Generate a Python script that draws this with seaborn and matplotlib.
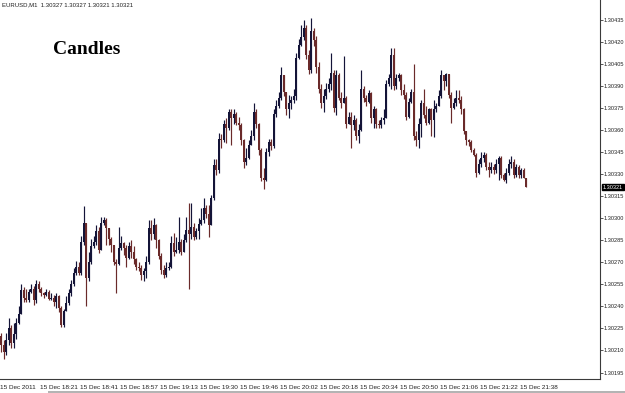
import numpy as np
import pandas as pd
import matplotlib
matplotlib.use("Agg")
import matplotlib.pyplot as plt
import matplotlib.transforms as mtransforms
from matplotlib.patches import Rectangle
import seaborn as sns

# ---------------- data (EURUSD, M1) ----------------
header = "EURUSD,M1  1.30327 1.30327 1.30321 1.30321"
chart_label = "Candles"
first_open = 1.30220

close = [
    1.30214, 1.30209, 1.30217, 1.30225, 1.30215, 1.30221, 1.30229, 1.30235, 1.30251, 1.30246,
    1.30244, 1.30250, 1.30252, 1.30244, 1.30255, 1.30252, 1.30249, 1.30248, 1.30250, 1.30245,
    1.30246, 1.30243, 1.30247, 1.30239, 1.30227, 1.30237, 1.30242, 1.30249, 1.30255, 1.30263,
    1.30267, 1.30263, 1.30284, 1.30297, 1.30259, 1.30270, 1.30281, 1.30284, 1.30291, 1.30278,
    1.30297, 1.30299, 1.30293, 1.30286, 1.30282, 1.30270, 1.30269, 1.30280, 1.30283, 1.30280,
    1.30273, 1.30281, 1.30277, 1.30272, 1.30267, 1.30266, 1.30261, 1.30264, 1.30270, 1.30293,
    1.30289, 1.30295, 1.30285, 1.30274, 1.30265, 1.30261, 1.30266, 1.30267, 1.30283, 1.30277,
    1.30278, 1.30284, 1.30277, 1.30285, 1.30292, 1.30289, 1.30294, 1.30287, 1.30291, 1.30296,
    1.30299, 1.30307, 1.30303, 1.30295, 1.30314, 1.30336, 1.30333, 1.30354, 1.30353, 1.30364,
    1.30361, 1.30372, 1.30368, 1.30371, 1.30365, 1.30363, 1.30353, 1.30338, 1.30341, 1.30350,
    1.30356, 1.30372, 1.30364, 1.30346, 1.30327, 1.30326, 1.30345, 1.30352, 1.30349, 1.30371,
    1.30376, 1.30382, 1.30397, 1.30386, 1.30374, 1.30378, 1.30380, 1.30383, 1.30409, 1.30418,
    1.30423, 1.30429, 1.30411, 1.30401, 1.30427, 1.30421, 1.30403, 1.30388, 1.30378, 1.30383,
    1.30388, 1.30391, 1.30399, 1.30375, 1.30397, 1.30382, 1.30378, 1.30382, 1.30364, 1.30369,
    1.30363, 1.30367, 1.30356, 1.30360, 1.30388, 1.30382, 1.30379, 1.30385, 1.30368, 1.30374,
    1.30364, 1.30363, 1.30367, 1.30368, 1.30391, 1.30395, 1.30411, 1.30390, 1.30395, 1.30397,
    1.30387, 1.30384, 1.30369, 1.30379, 1.30386, 1.30356, 1.30353, 1.30364, 1.30378, 1.30370,
    1.30365, 1.30374, 1.30367, 1.30374, 1.30376, 1.30383, 1.30397, 1.30393, 1.30398, 1.30384,
    1.30375, 1.30378, 1.30382, 1.30380, 1.30374, 1.30359, 1.30353, 1.30352, 1.30346, 1.30343,
    1.30331, 1.30337, 1.30341, 1.30343, 1.30335, 1.30333, 1.30335, 1.30333, 1.30337, 1.30341,
    1.30329, 1.30326, 1.30331, 1.30337, 1.30338, 1.30329, 1.30335, 1.30329, 1.30333, 1.30327,
    1.30321,
]

high = [
    1.30222, 1.30217, 1.30222, 1.30232, 1.30227, 1.30229, 1.30232, 1.30240, 1.30255, 1.30253,
    1.30252, 1.30252, 1.30255, 1.30254, 1.30258, 1.30257, 1.30253, 1.30250, 1.30252, 1.30251,
    1.30249, 1.30248, 1.30249, 1.30248, 1.30240, 1.30238, 1.30247, 1.30252, 1.30258, 1.30266,
    1.30271, 1.30270, 1.30288, 1.30308, 1.30297, 1.30277, 1.30286, 1.30288, 1.30295, 1.30294,
    1.30301, 1.30301, 1.30300, 1.30293, 1.30287, 1.30282, 1.30272, 1.30294, 1.30288, 1.30284,
    1.30282, 1.30284, 1.30285, 1.30281, 1.30273, 1.30270, 1.30268, 1.30266, 1.30274, 1.30299,
    1.30299, 1.30300, 1.30296, 1.30286, 1.30276, 1.30268, 1.30270, 1.30270, 1.30288, 1.30290,
    1.30287, 1.30301, 1.30286, 1.30289, 1.30301, 1.30310, 1.30310, 1.30297, 1.30293, 1.30300,
    1.30307, 1.30314, 1.30309, 1.30309, 1.30316, 1.30340, 1.30340, 1.30358, 1.30357, 1.30367,
    1.30368, 1.30374, 1.30374, 1.30374, 1.30372, 1.30369, 1.30365, 1.30354, 1.30348, 1.30353,
    1.30360, 1.30378, 1.30374, 1.30365, 1.30348, 1.30334, 1.30348, 1.30354, 1.30354, 1.30374,
    1.30380, 1.30386, 1.30403, 1.30395, 1.30386, 1.30384, 1.30383, 1.30388, 1.30412, 1.30422,
    1.30431, 1.30435, 1.30431, 1.30414, 1.30436, 1.30429, 1.30424, 1.30406, 1.30391, 1.30388,
    1.30392, 1.30395, 1.30412, 1.30401, 1.30401, 1.30399, 1.30386, 1.30410, 1.30383, 1.30372,
    1.30372, 1.30370, 1.30368, 1.30364, 1.30401, 1.30390, 1.30384, 1.30387, 1.30386, 1.30376,
    1.30375, 1.30367, 1.30369, 1.30374, 1.30394, 1.30398, 1.30416, 1.30416, 1.30398, 1.30399,
    1.30398, 1.30391, 1.30386, 1.30382, 1.30388, 1.30405, 1.30359, 1.30368, 1.30380, 1.30388,
    1.30376, 1.30375, 1.30375, 1.30380, 1.30378, 1.30387, 1.30401, 1.30397, 1.30399, 1.30398,
    1.30386, 1.30382, 1.30387, 1.30387, 1.30383, 1.30375, 1.30356, 1.30354, 1.30353, 1.30348,
    1.30344, 1.30340, 1.30345, 1.30345, 1.30344, 1.30338, 1.30338, 1.30337, 1.30340, 1.30342,
    1.30342, 1.30331, 1.30334, 1.30340, 1.30342, 1.30340, 1.30337, 1.30336, 1.30334, 1.30334,
    1.30327,
]

low = [
    1.30209, 1.30204, 1.30207, 1.30214, 1.30212, 1.30212, 1.30218, 1.30228, 1.30236, 1.30243,
    1.30243, 1.30243, 1.30249, 1.30241, 1.30242, 1.30250, 1.30247, 1.30246, 1.30247, 1.30244,
    1.30244, 1.30240, 1.30239, 1.30236, 1.30226, 1.30226, 1.30239, 1.30241, 1.30247, 1.30254,
    1.30261, 1.30261, 1.30261, 1.30282, 1.30240, 1.30257, 1.30269, 1.30280, 1.30282, 1.30276,
    1.30278, 1.30295, 1.30282, 1.30282, 1.30277, 1.30268, 1.30249, 1.30268, 1.30278, 1.30275,
    1.30267, 1.30272, 1.30273, 1.30269, 1.30265, 1.30264, 1.30258, 1.30257, 1.30259, 1.30269,
    1.30285, 1.30286, 1.30280, 1.30272, 1.30262, 1.30259, 1.30260, 1.30265, 1.30266, 1.30274,
    1.30276, 1.30276, 1.30275, 1.30278, 1.30284, 1.30252, 1.30286, 1.30285, 1.30286, 1.30286,
    1.30295, 1.30297, 1.30300, 1.30287, 1.30295, 1.30312, 1.30329, 1.30331, 1.30348, 1.30352,
    1.30351, 1.30360, 1.30350, 1.30364, 1.30363, 1.30360, 1.30350, 1.30334, 1.30336, 1.30340,
    1.30350, 1.30353, 1.30361, 1.30343, 1.30325, 1.30320, 1.30325, 1.30342, 1.30346, 1.30348,
    1.30369, 1.30375, 1.30380, 1.30383, 1.30370, 1.30368, 1.30374, 1.30378, 1.30380, 1.30408,
    1.30417, 1.30421, 1.30408, 1.30398, 1.30399, 1.30417, 1.30399, 1.30385, 1.30375, 1.30372,
    1.30381, 1.30386, 1.30387, 1.30372, 1.30370, 1.30380, 1.30375, 1.30378, 1.30361, 1.30364,
    1.30348, 1.30360, 1.30353, 1.30351, 1.30359, 1.30379, 1.30376, 1.30378, 1.30365, 1.30361,
    1.30361, 1.30361, 1.30361, 1.30364, 1.30369, 1.30390, 1.30388, 1.30387, 1.30388, 1.30393,
    1.30384, 1.30381, 1.30367, 1.30368, 1.30378, 1.30353, 1.30349, 1.30348, 1.30355, 1.30368,
    1.30363, 1.30364, 1.30356, 1.30355, 1.30372, 1.30376, 1.30382, 1.30387, 1.30390, 1.30382,
    1.30365, 1.30374, 1.30376, 1.30378, 1.30371, 1.30357, 1.30350, 1.30349, 1.30345, 1.30342,
    1.30328, 1.30330, 1.30335, 1.30338, 1.30333, 1.30328, 1.30331, 1.30330, 1.30331, 1.30326,
    1.30327, 1.30325, 1.30324, 1.30329, 1.30334, 1.30327, 1.30328, 1.30327, 1.30327, 1.30327,
    1.30321,
]

x_tick_labels = ["15 Dec 2011", "15 Dec 18:21", "15 Dec 18:41", "15 Dec 18:57",
                 "15 Dec 19:13", "15 Dec 19:30", "15 Dec 19:46", "15 Dec 20:02",
                 "15 Dec 20:18", "15 Dec 20:34", "15 Dec 20:50", "15 Dec 21:06",
                 "15 Dec 21:22", "15 Dec 21:38"]
x_tick_bars = [0, 16, 32, 48, 64, 80, 96, 112, 128, 144, 160, 176, 192, 208]
y_ticks = [1.30195, 1.30210, 1.30225, 1.30240, 1.30255, 1.30270, 1.30285,
           1.30300, 1.30315, 1.30330, 1.30345, 1.30360, 1.30375, 1.30390,
           1.30405, 1.30420, 1.30435]
current_price = 1.30321

# ---------------- build table ----------------
df = pd.DataFrame({"close": close, "high": high, "low": low})
df["open"] = [first_open] + close[:-1]
df["bar"] = np.arange(len(df))
df["top"] = df[["open", "close"]].max(axis=1)
df["bot"] = df[["open", "close"]].min(axis=1)
df["high"] = np.maximum(df["high"], df["top"])
df["low"] = np.minimum(df["low"], df["bot"])
df["bull"] = df["close"] >= df["open"]

BULL = "#141438"
BEAR = "#6a2a2a"
df["col"] = np.where(df["bull"], BULL, BEAR)

# ---------------- figure ----------------
sns.set_style("white")
plt.rcParams["font.family"] = ["Liberation Sans", "DejaVu Sans"]

W, H = 625, 393
AX_R = 600
fig = plt.figure(figsize=(W / 100, H / 100), dpi=100)
fig.patch.set_facecolor("white")
ax = fig.add_axes([0, 14 / H, AX_R / W, 379 / H])
ax.set_facecolor("white")

# wicks
ax.vlines(df["bar"], df["low"], df["high"], colors=df["col"], linewidth=0.85, zorder=2)
# bodies
heights = np.maximum(df["top"] - df["bot"], 0.000008)
ax.bar(df["bar"], heights, bottom=df["bot"], width=0.8, color=df["col"],
       linewidth=0, zorder=3)

# 2.5 px per bar across the plot width
ax.set_xlim(-0.5, -0.5 + AX_R / 2.5)
ax.set_ylim(1.301906, 1.304483)

sns.despine(ax=ax, left=True, top=True, right=False, bottom=False)
for s in ("right", "bottom"):
    ax.spines[s].set_color("#3a3a3a")
    ax.spines[s].set_linewidth(0.8)

ax.yaxis.tick_right()
ax.set_yticks(y_ticks)
ax.set_yticklabels([f"{v:.5f}" for v in y_ticks])
ax.tick_params(axis="y", which="major", direction="out", length=2.0, width=0.6,
               color="#3a3a3a", labelsize=4.1, labelcolor="#202020", pad=0.8)

ax.set_xticks([b - 0.5 for b in x_tick_bars])
ax.set_xticklabels(x_tick_labels)
ax.tick_params(axis="x", which="major", direction="out", length=3, width=0.6,
               color="#3a3a3a", labelsize=4.6, labelcolor="#202020", pad=1.0)
for lbl in ax.get_xticklabels():
    lbl.set_horizontalalignment("left")
ax.grid(False)

# current price marker
trans = mtransforms.blended_transform_factory(ax.transAxes, ax.transData)
ax.text(1.0 + 3.0 / AX_R, current_price, f"{current_price:.5f}", transform=trans,
        ha="left", va="center", fontsize=4.0, color="white", clip_on=False,
        bbox=dict(boxstyle="square,pad=0.12", facecolor="black", edgecolor="black"),
        zorder=5)

# header and label
fig.text(2 / W, 1 - 5 / H, header, fontsize=4.3, color="#202020", ha="left", va="center")
fig.text(87 / W, 1 - 50 / H, chart_label, fontsize=14, fontweight="bold",
         family=["Liberation Serif", "DejaVu Serif"], color="black",
         ha="center", va="center")

# bottom gray strip
fig.patches.append(Rectangle((48 / W, 0), 1, 2.5 / H, transform=fig.transFigure,
                             facecolor="#b4b4b4", edgecolor="none"))

fig.savefig("out.png", dpi=100, facecolor="white")
